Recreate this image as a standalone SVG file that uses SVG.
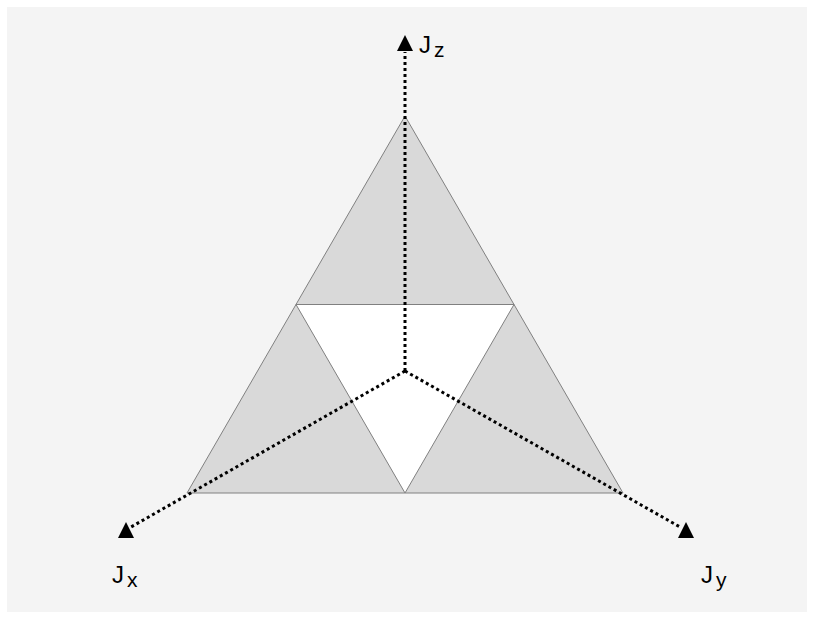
<svg xmlns="http://www.w3.org/2000/svg" width="814" height="619" viewBox="0 0 814 619">
<style>
.tri{fill:#d9d9d9;stroke:#808080;stroke-width:1}
.inner{fill:#ffffff;stroke:#808080;stroke-width:1}
.axis{fill:none;stroke:#000;stroke-width:3;stroke-dasharray:3 3}
.head{fill:#000}
.lbl{font-family:"Liberation Sans",Arial,sans-serif;font-size:24px;fill:#000}
.sub{font-size:21px}
</style>
<rect x="0" y="0" width="814" height="619" fill="#ffffff"/>
<rect x="7" y="7" width="800" height="605" fill="#f4f4f4"/>
<g id="outer-triangle">
<polygon class="tri" points="405,116 623,493 187,493"/>
</g>
<g id="inner-triangle">
<polygon class="inner" points="296,304.5 514,304.5 405,493"/>
</g>
<g id="connectors">
<line class="axis" x1="405" y1="371" x2="405" y2="52"/>
<line class="axis" x1="405" y1="371" x2="131" y2="527"/>
<line class="axis" x1="405" y1="371" x2="680" y2="527"/>
</g>
<g id="axis-z">
<polygon class="head" points="405,35 413,51 397,51"/>
<text class="lbl" x="419" y="53">J<tspan class="sub" dx="3" dy="4">z</tspan></text>
</g>
<g id="axis-x">
<polygon class="head" points="126,522 134,538 118,538"/>
<text class="lbl" x="112" y="583">J<tspan class="sub" dx="3" dy="4">x</tspan></text>
</g>
<g id="axis-y">
<polygon class="head" points="686,522 694,538 678,538"/>
<text class="lbl" x="701" y="583">J<tspan class="sub" dx="3" dy="4">y</tspan></text>
</g>
</svg>
